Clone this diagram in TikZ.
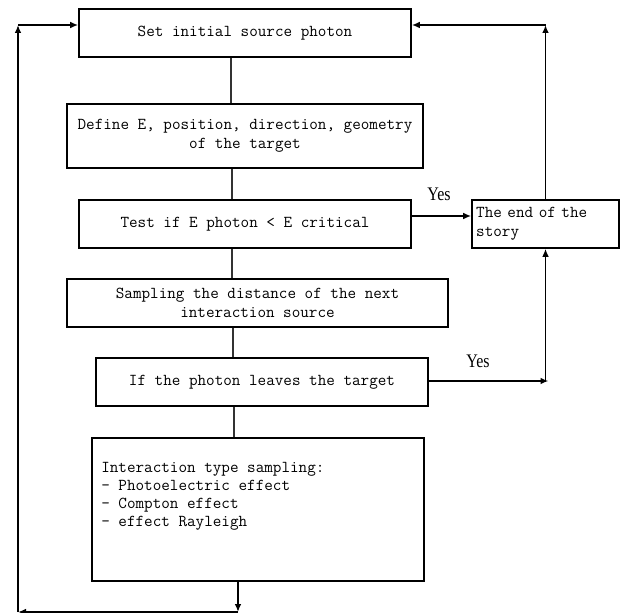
\documentclass[tikz,border=0pt]{standalone}
\usepackage{fontspec}
\setmainfont{Liberation Serif}
\usetikzlibrary{arrows.meta,calc}
\begin{document}
\begin{tikzpicture}[x=0.75pt,y=-0.75pt,
  box/.style={draw, line width=1.2pt, rectangle, inner sep=0pt,
    font=\ttfamily\fontsize{12.5}{14.25}\selectfont, align=center},
  conn/.style={line width=0.8pt, draw=black!80},
  arr/.style={line width=1.2pt, -{Latex[length=6pt,width=5pt]}},
  yes/.style={inner sep=0pt, font=\fontsize{12}{14}\selectfont}]
\useasboundingbox (0,0) rectangle (621,613);
% boxes
\node[box, minimum width=249pt, minimum height=36pt] (b1) at (245,33) {Set initial source photon};
\node[box, minimum width=267pt, minimum height=48pt] (b2) at (245,136) {Define E, position, direction, geometry\\of the target};
\node[box, minimum width=249pt, minimum height=36pt] (b3) at (245,224) {Test if E photon < E critical};
\node[box, minimum width=110.25pt, minimum height=36pt, text width=104pt, align=left] (end) at (545.5,224) {The end of the\\story};
\node[box, minimum width=285.75pt, minimum height=36pt] (b4) at (257.5,303) {Sampling the distance of the next\\interaction source};
\node[box, minimum width=249pt, minimum height=36pt] (b5) at (262,382) {If the photon leaves the target};
\node[box, minimum width=249pt, minimum height=107.25pt] (b6) at (258,509.5) {};
\node[inner sep=0pt, anchor=west, align=left, font=\ttfamily\fontsize{12.5}{13.5}\selectfont] (b6t) at (101,496)
  {Interaction type sampling:\\- Photoelectric effect\\- Compton effect\\- effect Rayleigh};
% labels
\node[yes] (yes1) at (439,194) {\scalebox{1}[1.2]{Yes}};
\node[yes] (yes2) at (478,361) {\scalebox{1}[1.2]{Yes}};
% coordinates
\coordinate (x1) at (231,0);
\coordinate (x2) at (232,0);
\coordinate (x3) at (233,0);
\coordinate (x4) at (234,0);
\coordinate (bm) at (238,612);
\coordinate (bl) at (18,612);
\coordinate (tl) at (18,25);
\coordinate (tr) at (546,25);
\coordinate (ya) at (0,216);
\coordinate (yb) at (0,381);
% vertical connectors
\draw[conn] (b1.south -| x1) -- (b2.north -| x1);
\draw[conn] (b2.south -| x2) -- (b3.north -| x2);
\draw[conn] (b3.south -| x2) -- (b4.north -| x2);
\draw[conn] (b4.south -| x3) -- (b5.north -| x3);
\draw[conn] (b5.south -| x4) -- (b6.north -| x4);
% loop back
\draw[arr] (b6.south -| bm) -- (bm);
\draw[arr] (bm) -- (bl);
\draw[arr] (bl) -- (tl);
\draw[arr] (tl) -- (tl -| b1.west);
% yes branches
\draw[arr] (b3.east |- ya) -- (end.west |- ya);
\draw[arr] (b5.east |- yb) -- ($(end.south |- yb)+(3,0)$);
\draw[arr] (end.south |- yb) -- (end.south);
\draw[arr] (end.north) -- (end.north |- tr);
\draw[arr] (end.north |- tr) -- (tr -| b1.east);
\end{tikzpicture}
\end{document}
